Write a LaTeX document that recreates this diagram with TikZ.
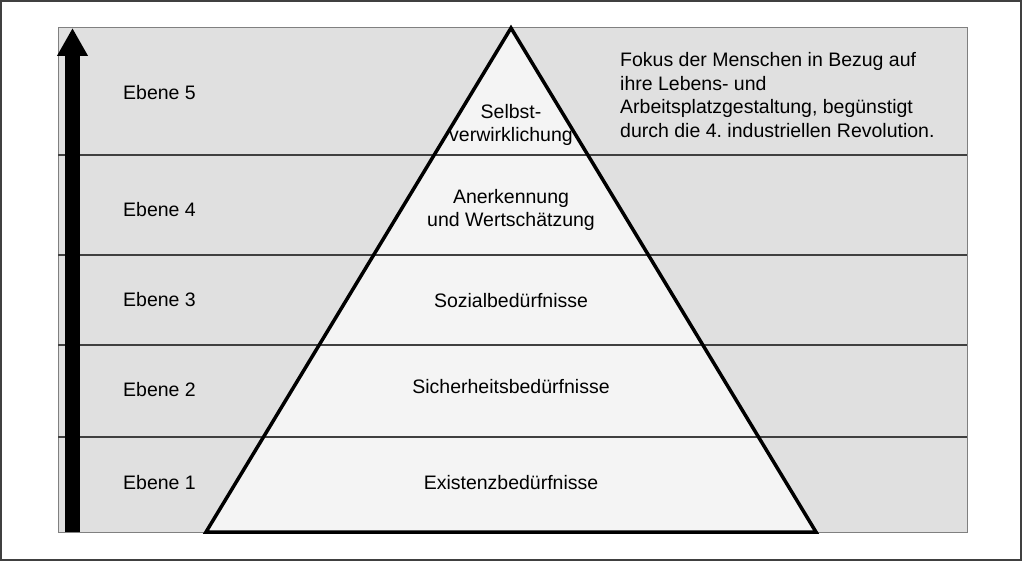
\documentclass[tikz,border=0pt]{standalone}
\usepackage{fontspec}
\setmainfont{Liberation Sans}
\usetikzlibrary{arrows.meta}
\definecolor{bandgray}{HTML}{E0E0E0}
\definecolor{pyrfill}{HTML}{F4F4F4}
\definecolor{rulegray}{HTML}{404040}
\frenchspacing

\begin{document}
\begin{tikzpicture}[x=1pt,y=-1pt,
    every node/.style={font=\fontsize{19.5}{23.5}\selectfont,inner sep=0pt},
    level/.style={anchor=west},
    need/.style={align=center},
    note/.style={anchor=west,align=left}]
    \useasboundingbox (0,0) rectangle (1022,561);
    \draw[rulegray,line width=2pt] (1,1) rectangle (1021,560);
    \draw[gray,fill=bandgray] (58,27) rectangle (967,532);
    % pyramid
    \coordinate (top) at (511,28);
    \coordinate (bl) at (206,532);
    \coordinate (br) at (816,532);
    \fill[pyrfill] (top) -- (bl) -- (br) -- cycle;
    \foreach \y in {155,255,345,437}
        \draw[rulegray,line width=1.5pt] (58,\y) -- (967,\y);
    \draw[line width=3.5pt,line join=miter] (top) -- (bl) -- (br) -- cycle;
    % arrow
    \coordinate (abot) at (72.5,532);
    \coordinate (atop) at (72.5,28);
    \draw[line width=15pt,-{Triangle[width=29pt,length=28pt]}] (abot) -- (atop);
    % levels
    \node[level] (e5) at (123,93) {Ebene 5};
    \node[level] (e4) at (123,210) {Ebene 4};
    \node[level] (e3) at (123,300) {Ebene 3};
    \node[level] (e2) at (123,390) {Ebene 2};
    \node[level] (e1) at (123,483) {Ebene 1};
    % needs
    \node[need] (n5) at (511,125) {Selbst-\\verwirklichung};
    \node[need] (n4) at (511,210) {Anerkennung\\und Wertschätzung};
    \node[need] (n3) at (511,301) {Sozialbedürfnisse};
    \node[need] (n2) at (511,387) {Sicherheitsbedürfnisse};
    \node[need] (n1) at (511,483) {Existenzbedürfnisse};
    \node[note] (focus) at (620,95) {Fokus der Menschen in Bezug auf\\ihre Lebens- und\\Arbeitsplatzgestaltung, begünstigt\\durch die 4. industriellen Revolution.};
\end{tikzpicture}
\end{document}
